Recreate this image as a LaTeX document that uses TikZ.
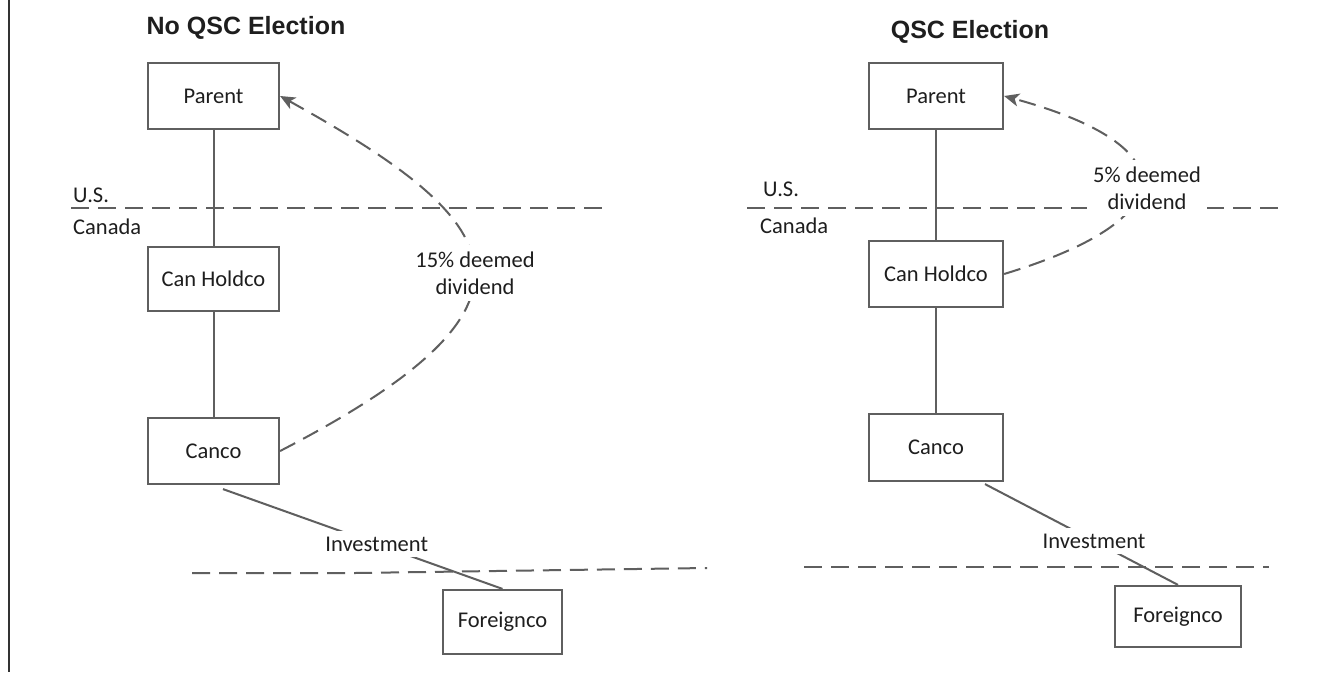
\documentclass[tikz,border=0pt]{standalone}
\usepackage{fontspec}
\setmainfont{Carlito}
\newfontfamily\titlefont{Liberation Sans}
\usetikzlibrary{arrows.meta}
\definecolor{linegray}{HTML}{5F5F5F}
\definecolor{txt}{HTML}{1E1E1E}
\begin{document}
\begin{tikzpicture}[x=1bp,y=-1bp,
  ent/.style={draw=linegray, line width=2.2bp, fill=white, inner sep=0pt, text=txt, font=\fontsize{22.5bp}{27bp}\selectfont},
  conn/.style={draw=linegray, line width=2bp},
  border/.style={draw=linegray, line width=2bp, dash pattern=on 18bp off 9bp},
  flow/.style={draw=linegray, line width=2bp, dash pattern=on 17bp off 9bp, -{Stealth[length=15bp,width=13bp,inset=4bp]}},
  lbl/.style={text=txt, font=\fontsize{22.5bp}{27bp}\selectfont, inner sep=0pt},
  cutlbl/.style={lbl, fill=white, align=center, inner xsep=6bp, inner ysep=7bp},
  ttl/.style={text=txt, font=\titlefont\bfseries\fontsize{25bp}{30bp}\selectfont, inner sep=0pt, anchor=base},
]
\useasboundingbox[fill=white] (0,0) rectangle (1338,672);
\draw[black!80, line width=1.5bp] (9,0) -- (9,672);

% ---------- Left: No QSC Election ----------
\node[ttl] (titleL) at (246,35) {No QSC Election};
\node[ent, minimum width=131bp, minimum height=66bp] (parentL) at (213.5,96) {Parent};
\node[ent, minimum width=131bp, minimum height=64bp] (holdL) at (213.5,279) {Can Holdco};
\node[ent, minimum width=131bp, minimum height=66bp] (cancoL) at (213.5,451) {Canco};
\node[ent, minimum width=119bp, minimum height=64bp] (foreignL) at (502.5,622) {Foreignco};

\coordinate (usLa) at (71,208);
\coordinate (usLb) at (608,208);
\draw[border] (usLa) -- (usLb);
\node[lbl, anchor=base west] (usL) at (73,202) {U.S.};
\node[lbl, anchor=base west] (caL) at (73,234) {Canada};

\draw[conn] (parentL) -- (holdL);
\draw[conn] (holdL) -- (cancoL);

\coordinate (fLa) at (192,573);
\coordinate (fLb) at (355,573);
\coordinate (fLc) at (707,568);
\draw[border] (fLa) -- (fLb) -- (fLc);

\draw[conn] ([xshift=9.5bp,yshift=-4bp]cancoL.south) -- node[pos=0.55, lbl, fill=white, inner sep=5.5bp] (invL) {Investment} (foreignL.north);

\draw[flow] (cancoL.east) .. controls (568,302) and (507,222) .. (parentL.east);
\node[cutlbl] (divL) at (475,273) {15\% deemed\\dividend};

% ---------- Right: QSC Election ----------
\node[ttl] (titleR) at (970,39) {QSC Election};
\node[ent, minimum width=134bp, minimum height=66bp] (parentR) at (936,96) {Parent};
\node[ent, minimum width=134bp, minimum height=66bp] (holdR) at (936,274) {Can Holdco};
\node[ent, minimum width=134bp, minimum height=67bp] (cancoR) at (936,447.5) {Canco};
\node[ent, minimum width=126bp, minimum height=61bp] (foreignR) at (1178,616.5) {Foreignco};

\coordinate (usRa) at (747,208);
\coordinate (usRb) at (1285,208);
\draw[border] (usRa) -- (usRb);
\node[lbl, anchor=base west] (usR) at (763,196) {U.S.};
\node[lbl, anchor=base west] (caR) at (760,233) {Canada};

\draw[conn] (parentR) -- (holdR);
\draw[conn] (holdR) -- (cancoR);

\coordinate (fRa) at (804,567);
\coordinate (fRb) at (1269,567);
\draw[border] (fRa) -- (fRb);

\draw[conn] ([xshift=49bp,yshift=-2bp]cancoR.south) -- node[pos=0.565, lbl, fill=white, inner sep=5.5bp] (invR) {Investment} (foreignR.north);

\draw[flow] (holdR.east) .. controls (1185,219) and (1187,146) .. (parentR.east);
\node[cutlbl] (divR) at (1147,188) {5\% deemed\\dividend};
\end{tikzpicture}
\end{document}
